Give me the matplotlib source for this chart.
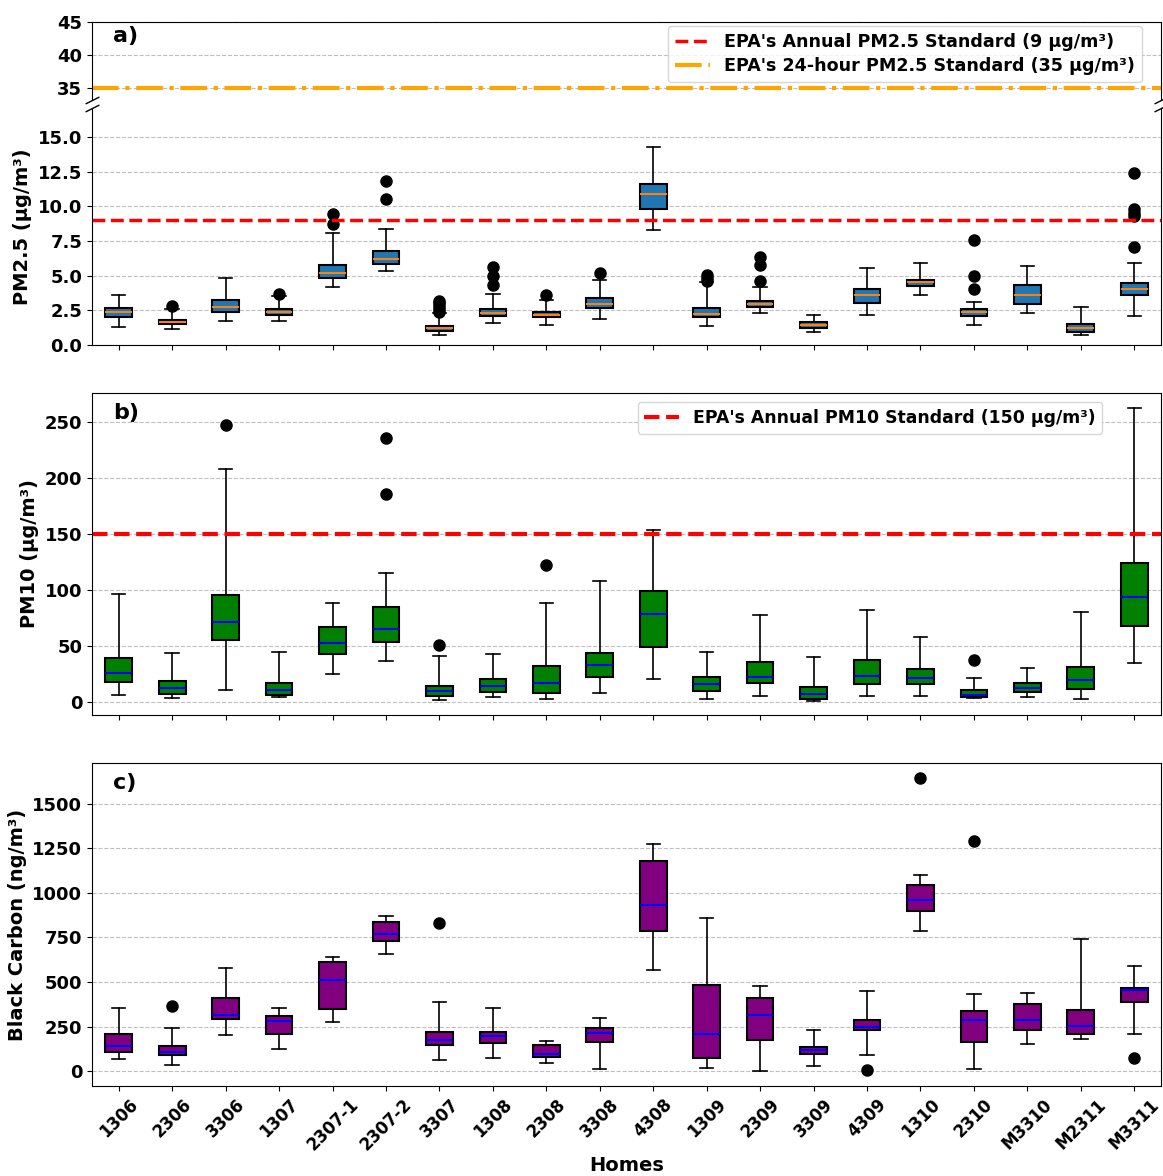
import matplotlib.pyplot as plt
from matplotlib.lines import Line2D

# Box statistics
homes = ['1306', '2306', '3306', '1307', '2307-1', '2307-2', '3307', '1308', '2308', '3308',
         '4308', '1309', '2309', '3309', '4309', '1310', '2310', 'M3310', 'M2311', 'M3311']

# PM2.5 (ug/m3)
pm25_low = [1.30, 1.16, 1.71, 1.76, 4.22, 5.37, 0.72, 1.57, 1.42, 1.88,
            8.31, 1.37, 2.34, 0.94, 2.19, 3.59, 1.47, 2.29, 0.72, 2.10]
pm25_q1 = [2.05, 1.49, 2.41, 2.19, 4.80, 5.88, 1.04, 2.10, 2.00, 2.70,
           9.81, 2.02, 2.72, 1.20, 3.06, 4.24, 2.10, 2.94, 0.96, 3.59]
pm25_med = [2.41, 1.64, 2.77, 2.39, 5.18, 6.22, 1.20, 2.31, 2.19, 2.99,
            10.89, 2.24, 2.96, 1.42, 3.59, 4.51, 2.39, 3.59, 1.23, 4.05]
pm25_q3 = [2.67, 1.81, 3.28, 2.58, 5.76, 6.80, 1.37, 2.63, 2.39, 3.37,
           11.59, 2.70, 3.20, 1.64, 4.07, 4.72, 2.63, 4.36, 1.54, 4.46]
pm25_high = [3.59, 2.60, 4.84, 3.54, 8.10, 8.34, 2.29, 3.69, 3.25, 4.70,
             14.27, 4.53, 4.17, 2.19, 5.54, 5.95, 3.08, 5.71, 2.75, 5.90]
pm25_fliers = [[], [2.82], [], [3.66], [8.70, 9.47], [10.53, 11.86],
               [2.40, 2.60, 2.80, 3.00, 3.20], [4.34, 5.01, 5.61], [3.61], [5.18],
               [], [4.65, 4.85, 5.05], [4.60, 5.80, 6.35], [], [], [],
               [4.07, 5.01, 7.54], [], [], [7.10, 9.30, 9.55, 9.80, 12.40]]

# PM10 (ug/m3)
pm10_low = [6.5, 3.3, 11.0, 4.2, 24.7, 36.6, 1.8, 4.2, 2.7, 7.7,
            20.8, 2.4, 5.3, 1.2, 5.3, 5.3, 3.3, 4.2, 2.4, 34.8]
pm10_q1 = [17.8, 7.4, 55.3, 6.5, 42.5, 53.8, 5.0, 8.9, 7.7, 22.3,
           48.7, 9.5, 16.9, 3.0, 16.3, 16.3, 4.5, 8.9, 11.9, 68.1]
pm10_med = [26.2, 12.5, 71.3, 11.0, 52.6, 65.4, 9.8, 14.3, 17.2, 33.3,
            78.2, 15.8, 22.6, 7.1, 23.2, 21.7, 6.5, 12.5, 19.3, 93.6]
pm10_q3 = [39.5, 18.4, 95.7, 16.6, 66.6, 85.0, 14.6, 20.2, 32.1, 44.0,
           99.3, 22.6, 35.7, 13.7, 37.7, 29.1, 10.7, 17.2, 30.9, 123.9]
pm10_high = [96.6, 43.4, 208.3, 44.3, 88.3, 115.6, 40.7, 42.8, 88.3, 107.9,
             153.3, 44.9, 77.9, 40.4, 82.0, 58.2, 21.7, 30.0, 80.2, 262.7]
pm10_fliers = [[], [], [247.8], [], [], [185.7, 235.4], [50.5], [], [122.7], [],
               [], [], [], [], [], [], [37.1], [], [], []]

# Black carbon (ng/m3)
bc_low = [69, 34, 200, 125, 273, 660, 62, 75, 45, 11,
          565, 17, 0, 26, 90, 789, 13, 153, 180, 206]
bc_q1 = [108, 92, 290, 208, 346, 729, 148, 157, 77, 165,
         787, 75, 172, 94, 230, 901, 165, 228, 208, 387]
bc_med = [142, 107, 314, 282, 512, 769, 174, 195, 95, 213,
          930, 206, 314, 116, 245, 961, 284, 288, 254, 456]
bc_q3 = [206, 140, 408, 307, 610, 836, 219, 217, 144, 243,
         1182, 486, 408, 137, 288, 1047, 340, 376, 344, 469]
bc_high = [352, 239, 578, 354, 640, 872, 387, 352, 168, 299,
           1277, 857, 479, 232, 447, 1102, 430, 436, 743, 591]
bc_fliers = [[], [363], [], [], [], [], [829], [], [], [],
             [], [], [], [], [8], [1644], [1292], [], [], [71]]


def make_stats(low, q1, med, q3, high, fliers):
    return [dict(whislo=a, q1=b, med=c, q3=d, whishi=e, fliers=f)
            for a, b, c, d, e, f in zip(low, q1, med, q3, high, fliers)]


def draw_boxes(ax, stats, face, med_color):
    ax.bxp(stats, positions=range(len(stats)), widths=0.5, patch_artist=True,
           boxprops=dict(facecolor=face, edgecolor='black', linewidth=1.5),
           medianprops=dict(color=med_color, linewidth=1.5),
           whiskerprops=dict(color='black', linewidth=1.2),
           capprops=dict(color='black', linewidth=1.2),
           flierprops=dict(marker='o', markerfacecolor='black', markeredgecolor='black',
                           markersize=8))


def style_ax(ax):
    ax.grid(axis='y', linestyle='--', color='gray', alpha=0.5)
    ax.set_axisbelow(True)
    ax.set_xlim(-0.5, len(homes) - 0.5)
    for lab in ax.get_yticklabels():
        lab.set_fontweight('bold')
        lab.set_fontsize(13)


W, H = 1163, 1176
fig = plt.figure(figsize=(W / 100, H / 100), dpi=100)


def box(top, bottom, left=92, right=1161):
    return [left / W, 1 - bottom / H, (right - left) / W, (bottom - top) / H]


# ---- a) PM2.5 with broken axis ----
ax_top = fig.add_axes(box(22, 100))
ax_bot = fig.add_axes(box(108, 345))

draw_boxes(ax_bot, make_stats(pm25_low, pm25_q1, pm25_med, pm25_q3, pm25_high, pm25_fliers),
           '#1f77b4', '#ff7f0e')
ax_bot.axhline(9, color='red', linestyle='--', linewidth=2.5)
ax_top.axhline(35, color='orange', linestyle='-.', linewidth=3)
ax_bot.set_ylim(0, 17.1)
ax_top.set_ylim(33.2, 45)
ax_bot.set_yticks([0, 2.5, 5, 7.5, 10, 12.5, 15])
ax_bot.set_yticklabels(['0.0', '2.5', '5.0', '7.5', '10.0', '12.5', '15.0'])
ax_top.set_yticks([35, 40, 45])
for ax in (ax_top, ax_bot):
    style_ax(ax)
ax_top.spines['bottom'].set_visible(False)
ax_bot.spines['top'].set_visible(False)
ax_top.tick_params(axis='x', bottom=False, labelbottom=False)
ax_bot.set_xticks(range(len(homes)))
ax_bot.set_xticklabels([])
ax_bot.set_ylabel('PM2.5 (µg/m³)', fontsize=14, fontweight='bold')
ax_top.text(0.02, 0.95, 'a)', transform=ax_top.transAxes, fontsize=16,
            fontweight='bold', va='top')

d = 0.5
kw = dict(marker=[(-1, -d), (1, d)], markersize=10, linestyle='none',
          color='k', mec='k', mew=1, clip_on=False)
ax_top.plot([0, 1], [0, 0], transform=ax_top.transAxes, **kw)
ax_bot.plot([0, 1], [1, 1], transform=ax_bot.transAxes, **kw)

handles = [Line2D([], [], color='red', linestyle='--', linewidth=2.5),
           Line2D([], [], color='orange', linestyle='-.', linewidth=3)]
ax_top.legend(handles, ["EPA's Annual PM2.5 Standard (9 µg/m³)",
                        "EPA's 24-hour PM2.5 Standard (35 µg/m³)"],
              loc='upper right', bbox_to_anchor=(0.982, 0.95),
              prop=dict(weight='bold', size=12.6),
              borderaxespad=0, labelspacing=0.35)

# ---- b) PM10 ----
ax_b = fig.add_axes(box(393, 715))
draw_boxes(ax_b, make_stats(pm10_low, pm10_q1, pm10_med, pm10_q3, pm10_high, pm10_fliers),
           'green', 'blue')
ax_b.axhline(150, color='red', linestyle='--', linewidth=3,
             label="EPA's Annual PM10 Standard (150 µg/m³)")
ax_b.set_ylim(-11.6, 276)
ax_b.set_yticks([0, 50, 100, 150, 200, 250])
style_ax(ax_b)
ax_b.set_xticks(range(len(homes)))
ax_b.set_xticklabels([])
ax_b.set_ylabel('PM10 (µg/m³)', fontsize=14, fontweight='bold')
ax_b.legend(loc='upper right', bbox_to_anchor=(0.945, 0.972),
            prop=dict(weight='bold', size=12.4), borderaxespad=0)
ax_b.text(0.02, 0.97, 'b)', transform=ax_b.transAxes, fontsize=16,
          fontweight='bold', va='top')

# ---- c) Black carbon ----
ax_c = fig.add_axes(box(763, 1086))
draw_boxes(ax_c, make_stats(bc_low, bc_q1, bc_med, bc_q3, bc_high, bc_fliers),
           'purple', 'blue')
ax_c.set_ylim(-84, 1730)
ax_c.set_yticks([0, 250, 500, 750, 1000, 1250, 1500])
style_ax(ax_c)
ax_c.set_xticks(range(len(homes)))
ax_c.set_xticklabels(homes, rotation=45, fontsize=12, fontweight='bold')
ax_c.set_ylabel('Black Carbon (ng/m³)', fontsize=14, fontweight='bold')
ax_c.set_xlabel('Homes', fontsize=14, fontweight='bold', labelpad=1)
ax_c.text(0.02, 0.97, 'c)', transform=ax_c.transAxes, fontsize=16,
          fontweight='bold', va='top')

fig.savefig('out.png', dpi=100)
